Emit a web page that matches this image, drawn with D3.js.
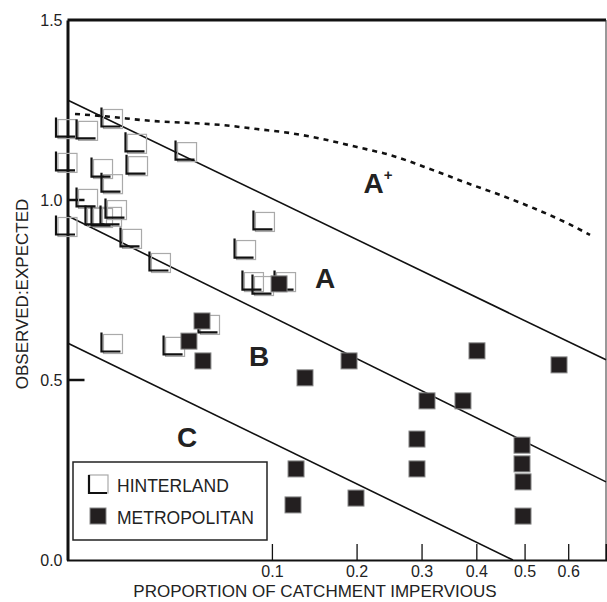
<!DOCTYPE html>
<html>
<head>
<meta charset="utf-8">
<script src="https://cdn.jsdelivr.net/npm/d3@7"></script>
<style>
  body { margin: 0; background: #fff; }
  text { font-family: "Liberation Sans", Arial, sans-serif; fill: #222; }
</style>
</head>
<body>
<div id="chart"></div>
<script>
// values: [proportion impervious, observed:expected]
const hinterland = [
  [0, 1.197], [0.00101, 1.192], [0, 1.103], [0.00495, 1.225], [0.01156, 1.156],
  [0.0119, 1.094], [0.00302, 1.086], [0.00495, 1.044], [0.0342, 1.133], [0.00101, 1.003],
  [0.00208, 0.953], [0.00302, 0.95], [0.00586, 0.972], [0.00474, 0.953], [0, 0.925],
  [0.00996, 0.892], [0.0209, 0.825], [0.00495, 0.6], [0.0277, 0.592], [0.0486, 0.653],
  [0.0933, 0.939], [0.0763, 0.861], [0.0832, 0.772], [0.0924, 0.761], [0.1143, 0.772]
];
const metropolitan = [
  [0.1071, 0.767], [0.0433, 0.664], [0.0353, 0.608], [0.0439, 0.553], [0.135, 0.506],
  [0.1897, 0.553], [0.4013, 0.581], [0.5782, 0.542], [0.3093, 0.442], [0.3743, 0.442],
  [0.2923, 0.336], [0.2923, 0.253], [0.4944, 0.319], [0.4944, 0.267], [0.4966, 0.217],
  [0.4966, 0.122], [0.1992, 0.172], [0.125, 0.253], [0.1217, 0.153]
];
// band boundaries (straight on the square-root axis)
const lineUpper = [[0, 1.278], [0.694, 0.556]];
const lineMiddle = [[0, 0.956], [0.694, 0.217]];
const lineLower = [[0, 0.603], [0.475, 0]];
// dotted curve
const dottedCurve = [
  [0.000135, 1.239], [0.00302, 1.233], [0.0183, 1.219], [0.0359, 1.214], [0.0579, 1.208],
  [0.0859, 1.197], [0.1185, 1.186], [0.1562, 1.169], [0.2006, 1.147], [0.2489, 1.125],
  [0.3197, 1.083], [0.382, 1.047], [0.4477, 1.014], [0.5186, 0.978], [0.5971, 0.936],
  [0.6534, 0.903]
];
const xTicks = [0.1, 0.2, 0.3, 0.4, 0.5, 0.6];
const yTicks = [0, 0.5, 1.0, 1.5];
const bandLabels = [
  { text: "A", sup: "+", p: 0.2308, v: 1.019 },
  { text: "A", sup: "", p: 0.1587, v: 0.756 },
  { text: "B", sup: "", p: 0.0878, v: 0.539 },
  { text: "C", sup: "", p: 0.0342, v: 0.314 }
];

const W = 607, H = 602;
const plotL = 67.5, plotR = 606, plotT = 20, plotB = 560;

const svg = d3.select("#chart").append("svg")
    .attr("width", W)
    .attr("height", H);

const x = d3.scaleSqrt().domain([0, 0.694]).range([plotL, plotR]);
const y = d3.scaleLinear().domain([0, 1.5]).range([plotB, plotT]);

// frame
svg.append("line").attr("x1", plotL).attr("x2", plotR).attr("y1", plotT).attr("y2", plotT)
    .attr("stroke", "#111").attr("stroke-width", 3);
svg.append("line").attr("x1", plotR).attr("x2", plotR).attr("y1", plotT).attr("y2", plotB)
    .attr("stroke", "#333").attr("stroke-width", 1);

// x axis, ticks pointing up
const xAxis = svg.append("g")
    .attr("transform", `translate(0,${plotB})`)
    .call(d3.axisBottom(x).tickValues(xTicks).tickSize(-16).tickPadding(6).tickFormat(d3.format(".1f")));
xAxis.select(".domain").attr("stroke", "#111").attr("stroke-width", 2);
xAxis.selectAll(".tick line").attr("stroke", "#111").attr("stroke-width", 1.3);
xAxis.selectAll(".tick text").style("font-size", "16px").attr("fill", "#222");

// y axis
const yAxis = svg.append("g")
    .attr("transform", `translate(${plotL},0)`)
    .call(d3.axisLeft(y).tickValues(yTicks).tickSize(0).tickPadding(5).tickFormat(d3.format(".1f")));
yAxis.select(".domain").attr("stroke", "#111").attr("stroke-width", 3);
yAxis.selectAll(".tick text").style("font-size", "16px").attr("fill", "#222");
svg.selectAll(".ytick")
    .data([0.5, 1.0])
    .enter().append("line")
    .attr("class", "ytick")
    .attr("x1", plotL).attr("x2", plotL + 17)
    .attr("y1", d => y(d)).attr("y2", d => y(d))
    .attr("stroke", "#111").attr("stroke-width", 2.5);

// axis titles
svg.append("text")
    .attr("x", 315)
    .attr("y", 597)
    .attr("text-anchor", "middle")
    .style("font-size", "17px")
    .text("PROPORTION OF CATCHMENT IMPERVIOUS");

svg.append("text")
    .attr("transform", "rotate(-90)")
    .attr("x", -294)
    .attr("y", 28)
    .attr("text-anchor", "middle")
    .style("font-size", "17px")
    .text("OBSERVED:EXPECTED");

// band lines
const line = d3.line().x(d => x(d[0])).y(d => y(d[1]));
[lineUpper, lineMiddle, lineLower].forEach(l => {
    svg.append("path")
        .attr("d", line(l))
        .attr("fill", "none")
        .attr("stroke", "#111")
        .attr("stroke-width", 1.6);
});

svg.append("path")
    .attr("d", d3.line().curve(d3.curveMonotoneX).x(d => x(d[0])).y(d => y(d[1]))(dottedCurve))
    .attr("fill", "none")
    .attr("stroke", "#111")
    .attr("stroke-width", 2.6)
    .attr("stroke-dasharray", "5,5");

// hinterland: grey square with heavy black left & bottom edges
const hs = 19;
const hg = svg.append("g");
hg.selectAll("rect")
    .data(hinterland)
    .enter().append("rect")
    .attr("x", d => x(d[0]) - hs / 2)
    .attr("y", d => y(d[1]) - hs / 2)
    .attr("width", hs)
    .attr("height", hs)
    .attr("fill", "none")
    .attr("stroke", "#aaa")
    .attr("stroke-width", 1.2);
hg.selectAll("path")
    .data(hinterland)
    .enter().append("path")
    .attr("d", d => {
        const cx = x(d[0]) - 2, cy = y(d[1]) - 2;
        return `M${cx - hs / 2},${cy - hs / 2}V${cy + hs / 2}H${cx + hs / 2}`;
    })
    .attr("fill", "none")
    .attr("stroke", "#111")
    .attr("stroke-width", 2.2);

// metropolitan
const ms = 16;
svg.append("g").selectAll("rect")
    .data(metropolitan)
    .enter().append("rect")
    .attr("x", d => x(d[0]) - ms / 2)
    .attr("y", d => y(d[1]) - ms / 2)
    .attr("width", ms)
    .attr("height", ms)
    .attr("fill", "#231f20")
    .attr("stroke", "#888")
    .attr("stroke-width", 1);

// band labels
bandLabels.forEach(b => {
    const t = svg.append("text")
        .attr("x", x(b.p))
        .attr("y", y(b.v))
        .attr("text-anchor", "middle")
        .style("font-size", "28px")
        .style("font-weight", "bold")
        .text(b.text);
    if (b.sup) {
        t.append("tspan")
            .attr("dy", -13)
            .style("font-size", "15px")
            .text(b.sup);
    }
});

// legend
const lg = svg.append("g");
lg.append("rect")
    .attr("x", 73).attr("y", 462)
    .attr("width", 194).attr("height", 78)
    .attr("fill", "#fff")
    .attr("stroke", "#222")
    .attr("stroke-width", 1.5);
lg.append("rect")
    .attr("x", 89).attr("y", 475).attr("width", 19).attr("height", 18)
    .attr("fill", "#fff").attr("stroke", "#aaa").attr("stroke-width", 1.2);
lg.append("path")
    .attr("d", "M89,475V493H107")
    .attr("fill", "none").attr("stroke", "#111").attr("stroke-width", 2.2);
lg.append("text").attr("x", 117).attr("y", 492).style("font-size", "17.5px").text("HINTERLAND");
lg.append("rect")
    .attr("x", 90).attr("y", 508).attr("width", 16).attr("height", 16)
    .attr("fill", "#231f20").attr("stroke", "#888").attr("stroke-width", 1);
lg.append("text").attr("x", 117).attr("y", 524).style("font-size", "17.5px").text("METROPOLITAN");
</script>
</body>
</html>
